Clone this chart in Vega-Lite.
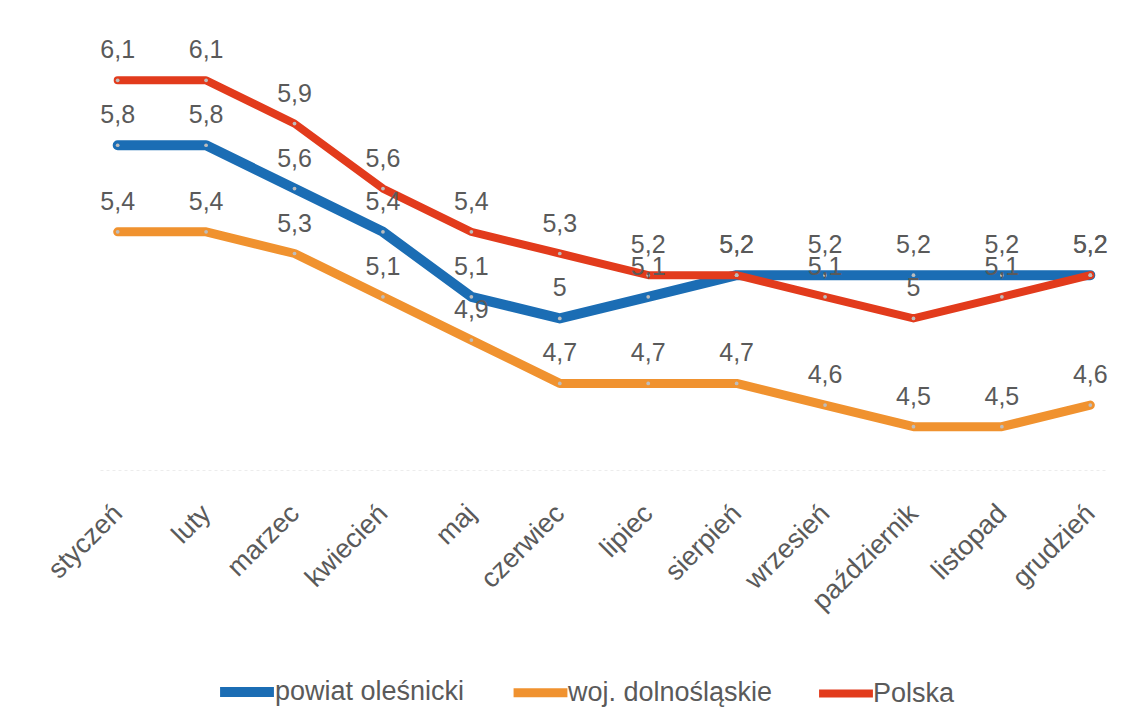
{
  "$schema": "https://vega.github.io/schema/vega-lite/v6.json",
  "autosize": "none",
  "width": 1008,
  "height": 433,
  "padding": {"left": 100, "top": 37, "right": 18, "bottom": 255},
  "background": "white",
  "config": {
    "view": {"stroke": null},
    "font": "Liberation Sans",
    "locale": {"number": {"decimal": ",", "thousands": " ", "grouping": [3], "currency": ["", " zł"]}}
  },
  "data": {
    "values": [
      {"miesiac": "styczeń", "seria": "woj. dolnośląskie", "wartosc": 5.4},
      {"miesiac": "luty", "seria": "woj. dolnośląskie", "wartosc": 5.4},
      {"miesiac": "marzec", "seria": "woj. dolnośląskie", "wartosc": 5.3},
      {"miesiac": "kwiecień", "seria": "woj. dolnośląskie", "wartosc": 5.1},
      {"miesiac": "maj", "seria": "woj. dolnośląskie", "wartosc": 4.9},
      {"miesiac": "czerwiec", "seria": "woj. dolnośląskie", "wartosc": 4.7},
      {"miesiac": "lipiec", "seria": "woj. dolnośląskie", "wartosc": 4.7},
      {"miesiac": "sierpień", "seria": "woj. dolnośląskie", "wartosc": 4.7},
      {"miesiac": "wrzesień", "seria": "woj. dolnośląskie", "wartosc": 4.6},
      {"miesiac": "październik", "seria": "woj. dolnośląskie", "wartosc": 4.5},
      {"miesiac": "listopad", "seria": "woj. dolnośląskie", "wartosc": 4.5},
      {"miesiac": "grudzień", "seria": "woj. dolnośląskie", "wartosc": 4.6},
      {"miesiac": "styczeń", "seria": "powiat oleśnicki", "wartosc": 5.8},
      {"miesiac": "luty", "seria": "powiat oleśnicki", "wartosc": 5.8},
      {"miesiac": "marzec", "seria": "powiat oleśnicki", "wartosc": 5.6},
      {"miesiac": "kwiecień", "seria": "powiat oleśnicki", "wartosc": 5.4},
      {"miesiac": "maj", "seria": "powiat oleśnicki", "wartosc": 5.1},
      {"miesiac": "czerwiec", "seria": "powiat oleśnicki", "wartosc": 5.0},
      {"miesiac": "lipiec", "seria": "powiat oleśnicki", "wartosc": 5.1},
      {"miesiac": "sierpień", "seria": "powiat oleśnicki", "wartosc": 5.2},
      {"miesiac": "wrzesień", "seria": "powiat oleśnicki", "wartosc": 5.2},
      {"miesiac": "październik", "seria": "powiat oleśnicki", "wartosc": 5.2},
      {"miesiac": "listopad", "seria": "powiat oleśnicki", "wartosc": 5.2},
      {"miesiac": "grudzień", "seria": "powiat oleśnicki", "wartosc": 5.2},
      {"miesiac": "styczeń", "seria": "Polska", "wartosc": 6.1},
      {"miesiac": "luty", "seria": "Polska", "wartosc": 6.1},
      {"miesiac": "marzec", "seria": "Polska", "wartosc": 5.9},
      {"miesiac": "kwiecień", "seria": "Polska", "wartosc": 5.6},
      {"miesiac": "maj", "seria": "Polska", "wartosc": 5.4},
      {"miesiac": "czerwiec", "seria": "Polska", "wartosc": 5.3},
      {"miesiac": "lipiec", "seria": "Polska", "wartosc": 5.2},
      {"miesiac": "sierpień", "seria": "Polska", "wartosc": 5.2},
      {"miesiac": "wrzesień", "seria": "Polska", "wartosc": 5.1},
      {"miesiac": "październik", "seria": "Polska", "wartosc": 5.0},
      {"miesiac": "listopad", "seria": "Polska", "wartosc": 5.1},
      {"miesiac": "grudzień", "seria": "Polska", "wartosc": 5.2}
    ]
  },
  "encoding": {
    "x": {
      "field": "miesiac",
      "type": "ordinal",
      "sort": ["styczeń", "luty", "marzec", "kwiecień", "maj", "czerwiec", "lipiec", "sierpień", "wrzesień", "październik", "listopad", "grudzień"],
      "scale": {"type": "point", "padding": 0.2},
      "axis": {
        "title": null,
        "labelAngle": -45,
        "labelFontSize": 27,
        "labelColor": "#5a5a5a",
        "labelPadding": 39,
        "labelDx": -15,
        "labelBaseline": "middle",
        "labelAlign": "right",
        "ticks": false,
        "domainColor": "#ececec",
        "domainWidth": 1,
        "domainDash": [3, 3]
      }
    },
    "y": {
      "field": "wartosc",
      "type": "quantitative",
      "scale": {"domain": [4.3, 6.3], "nice": false, "zero": false},
      "axis": null
    }
  },
  "layer": [
    {
      "mark": {"type": "line", "strokeCap": "round", "strokeJoin": "round"},
      "encoding": {
        "color": {
          "field": "seria",
          "type": "nominal",
          "scale": {
            "domain": ["powiat oleśnicki", "woj. dolnośląskie", "Polska"],
            "range": ["#1b6db4", "#f0922f", "#e23b1c"]
          },
          "legend": {
            "title": null,
            "orient": "none",
            "legendX": 115,
            "legendY": 623,
            "direction": "horizontal",
            "symbolType": "stroke",
            "symbolStrokeWidth": 10,
            "symbolSize": 2900,
            "labelFontSize": 27,
            "labelColor": "#5a5a5a",
            "labelOffset": -4,
            "labelLimit": 0,
            "columnPadding": 30,
            "symbolOpacity": 1
          }
        },
        "strokeWidth": {
          "field": "seria",
          "type": "nominal",
          "scale": {
            "domain": ["powiat oleśnicki", "woj. dolnośląskie", "Polska"],
            "range": [10, 8, 10]
          },
          "legend": null
        },
        "detail": {"field": "seria"}
      }
    },
    {
      "mark": {"type": "point", "filled": true, "size": 14, "color": "#bdbdbd", "opacity": 1},
      "encoding": {}
    },
    {
      "mark": {"type": "text", "dy": -22, "baseline": "alphabetic", "fontSize": 25, "color": "#5a5a5a"},
      "encoding": {
        "text": {"field": "wartosc", "type": "quantitative", "format": ".1~f"}
      }
    }
  ]
}
